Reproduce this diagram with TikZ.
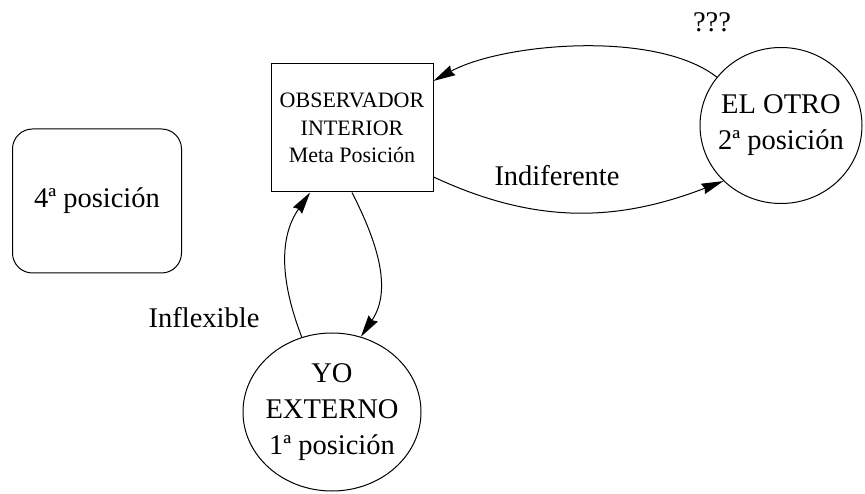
\documentclass[tikz,border=0pt]{standalone}
\usepackage{fontspec}
\setmainfont{Liberation Serif}
\usetikzlibrary{positioning,shapes.geometric,arrows.meta}
\tikzset{
  posNode/.style={ellipse, draw, line width=1pt, inner sep=-6pt, align=center},
  metaBox/.style={rectangle, draw, line width=1pt, minimum width=162pt, minimum height=128pt, align=center, font=\fontsize{22}{27.5}\selectfont},
  fourthBox/.style={rectangle, rounded corners=20pt, draw, line width=1pt, minimum width=169pt, minimum height=144pt},
  flowArrow/.style={-{Stealth[length=22pt,width=11pt,inset=2pt]}, line width=1pt}
}
\begin{document}
\begin{tikzpicture}[x=1pt, y=1pt, font=\fontsize{28.5}{36}\selectfont]
  \useasboundingbox (0,0) rectangle (865,493);
  \node [metaBox] (observer) at (352,365) {OBSERVADOR\\INTERIOR\\Meta Posición};
  \node [posNode, minimum width=162pt, minimum height=156pt] (other) at (781,367.5) {EL OTRO\\2ª posición};
  \node [posNode, minimum width=178pt, minimum height=158pt] (self) at (332,81) {YO\\EXTERNO\\1ª posición};
  \node [fourthBox] (fourth) at (97,292) {4ª posición};
  \node (unknown) at (712,471) {???};
  \node (indifferent) at (557,317) {Indiferente};
  \node (inflexible) at (204,175) {Inflexible};
  \draw [flowArrow] (other.143) to[out=142, in=29, looseness=0.7] (observer.30);
  \draw [flowArrow] (observer.-31) to[out=-25, in=201] (other.224);
  \draw [flowArrow] (self.112) to[out=111, in=235] (observer.237);
  \draw [flowArrow] (observer.south) to[out=-63, in=56] (self.69);
\end{tikzpicture}
\end{document}
